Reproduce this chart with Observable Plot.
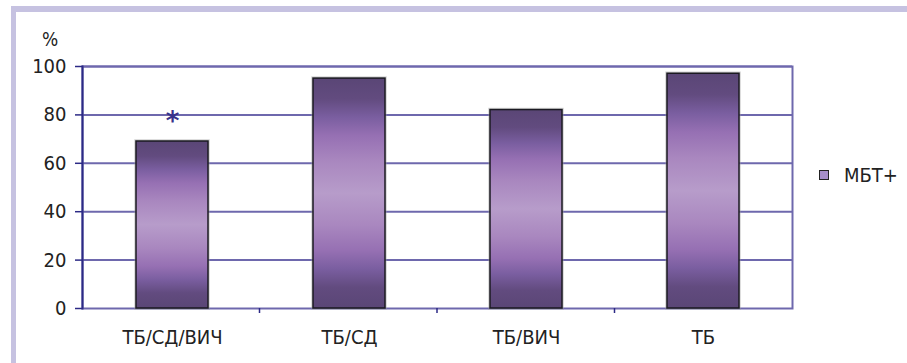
<!DOCTYPE html>
<html>
<head>
<meta charset="utf-8">
<script src="https://cdn.jsdelivr.net/npm/d3@7"></script>
<script src="https://cdn.jsdelivr.net/npm/@observablehq/plot@0.6"></script>
<style>
  html, body { margin: 0; padding: 0; background: #fff; }
  #chart {
    position: relative; width: 907px; height: 363px; overflow: hidden;
    font-family: 'Liberation Sans Narrow', 'Arial Narrow', 'DejaVu Sans Condensed', sans-serif;
    color: #222;
  }
  #panel {
    position: absolute; left: 11px; top: 6px; right: 0; bottom: 0;
    border-left: 5px solid #c6c2e1; border-top: 6px solid #c6c2e1;
  }
  #chart svg { position: absolute; left: 0; top: 0; }
  #unit {
    position: absolute; left: 42px; top: 28px; font-size: 19px; line-height: 22px;
  }
  #legend {
    position: absolute; left: 819px; top: 164px; display: flex; align-items: center;
    font-size: 20px; line-height: 22px;
  }
  #legend .swatch {
    width: 8px; height: 8px; border: 1.5px solid #222; background: #a68ec9; margin-right: 15px;
  }
</style>
</head>
<body>
<div id="chart">
  <div id="panel"></div>
  <div id="unit"></div>
  <div id="legend"><span class="swatch"></span><span id="legend-label"></span></div>
</div>
<script>
// Share of patients with positive MBT result, by group
const categories = ["ТБ/СД/ВИЧ", "ТБ/СД", "ТБ/ВИЧ", "ТБ"];
const values = [69, 95, 82, 97];
const seriesName = "МБТ+";
const yTicks = [0, 20, 40, 60, 80, 100];
const yUnit = "%";
// significance marker drawn above the first group
const markerCategories = ["ТБ/СД/ВИЧ"];
const markerValues = [79];
const markerTexts = ["*"];

const data = categories.map((category, i) => ({category, value: values[i]}));
const markers = markerCategories.map((category, i) => ({category, value: markerValues[i], text: markerTexts[i]}));

const font = "'Liberation Sans Narrow', 'Arial Narrow', 'DejaVu Sans Condensed', sans-serif";
const gridColor = "#6e68ad";
const axisColor = "#2c2a86";

// vertical bar shading: dark at both ends, light in the middle
function barGradient() {
  const ns = "http://www.w3.org/2000/svg";
  const defs = document.createElementNS(ns, "defs");
  const grad = document.createElementNS(ns, "linearGradient");
  grad.setAttribute("id", "barFill");
  grad.setAttribute("x1", "0"); grad.setAttribute("y1", "0");
  grad.setAttribute("x2", "0"); grad.setAttribute("y2", "1");
  const stops = [
    [0, "#5a4676"], [0.09, "#624b7f"], [0.17, "#7a5ea0"], [0.25, "#9670b3"],
    [0.36, "#a987bf"], [0.5, "#b79cca"], [0.64, "#a987bf"], [0.75, "#9670b3"],
    [0.83, "#7a5ea0"], [0.91, "#624b7f"], [1, "#5a4676"]
  ];
  for (const [offset, color] of stops) {
    const s = document.createElementNS(ns, "stop");
    s.setAttribute("offset", offset);
    s.setAttribute("stop-color", color);
    grad.appendChild(s);
  }
  defs.appendChild(grad);
  return defs;
}

// small ticks on the category axis between neighbouring groups
function categoryDividers(index, scales, values, dims) {
  const {width, height, marginLeft, marginRight, marginBottom} = dims;
  const step = (width - marginLeft - marginRight) / categories.length;
  const y0 = height - marginBottom;
  const g = d3.create("svg:g").attr("stroke", axisColor).attr("stroke-width", 1.5);
  for (let i = 1; i < categories.length; i++) {
    const x = marginLeft + i * step;
    g.append("line").attr("x1", x).attr("x2", x).attr("y1", y0).attr("y2", y0 + 5);
  }
  return g.node();
}

const chart = Plot.plot({
  width: 907,
  height: 363,
  marginLeft: 82,
  marginRight: 115,
  marginTop: 66,
  marginBottom: 55,
  style: {fontFamily: font, fontSize: "20px", color: "#222", background: "transparent", overflow: "visible"},
  x: {domain: categories, paddingInner: 0.594, paddingOuter: 0.297, label: null},
  y: {domain: [0, 100], label: null},
  marks: [
    barGradient,
    Plot.ruleY(yTicks.filter(d => d > 0), {stroke: gridColor, strokeWidth: 2}),
    Plot.frame({stroke: gridColor, strokeWidth: 2}),
    Plot.barY(data, {x: "category", y: "value", fillOpacity: 0, stroke: "#999", strokeWidth: 3.5, strokeOpacity: 0.45}),
    Plot.barY(data, {x: "category", y: "value", fill: "url(#barFill)", stroke: "#1b1a22", strokeWidth: 1.5}),
    Plot.text(markers, {x: "category", y: "value", text: "text", fontFamily: "DejaVu Sans", fontWeight: "bold", fontSize: 26, fill: "#38338a", lineAnchor: "middle", dy: 4}),
    Plot.frame({anchor: "left", stroke: axisColor, strokeWidth: 2}),
    Plot.axisY({ticks: yTicks, tickSize: 7, tickPadding: 9, stroke: axisColor, strokeWidth: 1.5, fill: "#222", label: null}),
    Plot.axisX({tickSize: 0, tickPadding: 21, fill: "#222", label: null}),
    categoryDividers
  ]
});

document.getElementById("chart").appendChild(chart);
document.getElementById("unit").textContent = yUnit;
document.getElementById("legend-label").textContent = seriesName;
</script>
</body>
</html>
